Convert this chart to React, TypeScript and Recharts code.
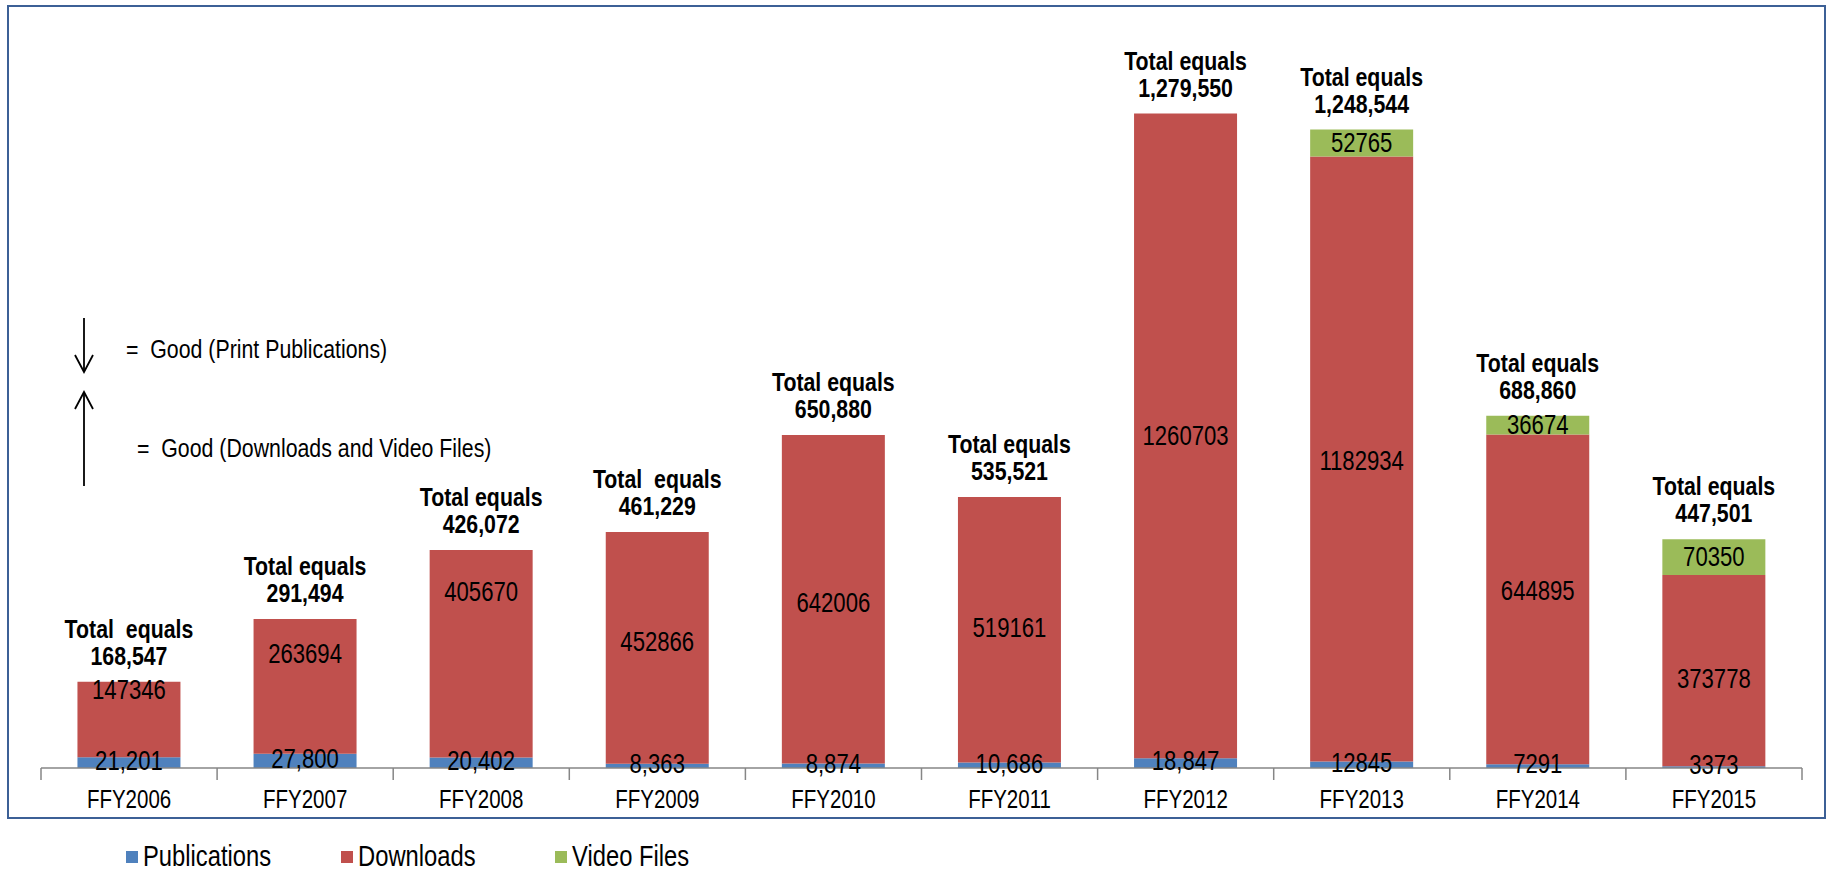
import { BarChart, Bar, XAxis, YAxis, LabelList, Legend } from "recharts";

const years = ["FFY2006", "FFY2007", "FFY2008", "FFY2009", "FFY2010", "FFY2011", "FFY2012", "FFY2013", "FFY2014", "FFY2015"];
const publications = [21201, 27800, 20402, 8363, 8874, 10686, 18847, 12845, 7291, 3373];
const downloads = [147346, 263694, 405670, 452866, 642006, 519161, 1260703, 1182934, 644895, 373778];
const videoFiles = [0, 0, 0, 0, 0, 0, 0, 52765, 36674, 70350];
const publicationLabels = ["21,201", "27,800", "20,402", "8,363", "8,874", "10,686", "18,847", "12845", "7291", "3373"];
const totalCaptions = ["Total  equals", "Total equals", "Total equals", "Total  equals", "Total equals", "Total equals", "Total equals", "Total equals", "Total equals", "Total equals"];
const totalLabels = ["168,547", "291,494", "426,072", "461,229", "650,880", "535,521", "1,279,550", "1,248,544", "688,860", "447,501"];
const seriesOrder = ["Publications", "Downloads", "Video Files"];

// layout
const W = 1835;
const H = 871;
const PLOT_LEFT = 41;
const PLOT_RIGHT = 1802;
const PLOT_TOP = 52;
const PLOT_BOTTOM = 768;
const X_AXIS_H = 40;
const BAND = (PLOT_RIGHT - PLOT_LEFT) / years.length;
// Excel labels were dragged by hand in the original
const downloadNudge = [-30, -33, -62, -6, 3, -2, 0, 2, -9, 8];
const legendX = [126, 341, 555];

const FONT = "'Liberation Sans', Arial, sans-serif";
const NARROW = 0.82;
const COLORS = { publications: "#4F81BD", downloads: "#C0504D", video: "#9BBB59" };

const data = years.map((year, i) => ({
  year,
  publications: publications[i],
  downloads: downloads[i],
  video: videoFiles[i],
}));

// Arial Narrow look: Liberation Sans squeezed horizontally
function NText({ x, y, size, bold, anchor = "middle", children }: any) {
  return (
    <text
      transform={`translate(${x},${y}) scale(${NARROW},1)`}
      textAnchor={anchor}
      dominantBaseline="central"
      fontFamily={FONT}
      fontSize={size}
      fontWeight={bold ? "bold" : "normal"}
      fill="#000"
      style={{ whiteSpace: "pre" }}
    >
      {children}
    </text>
  );
}

function YearTick(props: any) {
  const { x, payload, index } = props;
  const half = BAND / 2;
  return (
    <g>
      <line x1={x - half} x2={x - half} y1={PLOT_BOTTOM} y2={PLOT_BOTTOM + 12} stroke="#868686" strokeWidth={1.5} />
      {index === years.length - 1 && (
        <line x1={x + half} x2={x + half} y1={PLOT_BOTTOM} y2={PLOT_BOTTOM + 12} stroke="#868686" strokeWidth={1.5} />
      )}
      <NText x={x} y={PLOT_BOTTOM + 31} size={25}>
        {payload.value}
      </NText>
    </g>
  );
}

const pubLabel = (props: any) => {
  const { x, y, width, height, index } = props;
  return (
    <NText x={x + width / 2} y={y + height / 2 - 2} size={27}>
      {publicationLabels[index]}
    </NText>
  );
};

const downloadLabel = (props: any) => {
  const { x, y, width, height, index, value } = props;
  return (
    <NText x={x + width / 2} y={y + height / 2 + downloadNudge[index]} size={27}>
      {value}
    </NText>
  );
};

const videoLabel = (props: any) => {
  const { x, y, width, height, value } = props;
  if (!value) return null;
  return (
    <NText x={x + width / 2} y={y + height / 2} size={27}>
      {value}
    </NText>
  );
};

// totals sit on top of the whole stack: scale video off the downloads segment
const totalLabel = (props: any) => {
  const { x, y, width, height, index } = props;
  const cx = x + width / 2;
  const top = y - (height * videoFiles[index]) / downloads[index];
  return (
    <g>
      <NText x={cx} y={top - 53} size={26} bold>
        {totalCaptions[index]}
      </NText>
      <NText x={cx} y={top - 26} size={26} bold>
        {totalLabels[index]}
      </NText>
    </g>
  );
};

function LegendContent(props: any) {
  const payload = [...(props.payload || [])].sort(
    (a: any, b: any) => seriesOrder.indexOf(a.value) - seriesOrder.indexOf(b.value)
  );
  return (
    <svg width={W} height={30} style={{ display: "block" }}>
      {payload.map((entry: any, i: number) => (
        <g key={entry.value}>
          <rect x={legendX[i]} y={10} width={12} height={12} fill={entry.color} />
          <NText x={legendX[i] + 17} y={15} size={29} anchor="start">
            {entry.value}
          </NText>
        </g>
      ))}
    </svg>
  );
}

function Arrow({ x, y1, y2, up }: { x: number; y1: number; y2: number; up: boolean }) {
  const tip = up ? y1 : y2;
  const d = up ? 17 : -17;
  return (
    <g stroke="#000" strokeWidth={1.8} fill="none">
      <line x1={x} x2={x} y1={y1} y2={y2} />
      <polyline points={`${x - 9},${tip + d} ${x},${tip} ${x + 9},${tip + d}`} />
    </g>
  );
}

export default function App() {
  return (
    <div style={{ position: "absolute", left: 0, top: 0, width: W, height: H, background: "#fff" }}>
      <div
        style={{
          position: "absolute",
          left: 7,
          top: 5,
          width: 1819,
          height: 814,
          border: "2.5px solid #3C6096",
          boxSizing: "border-box",
        }}
      />
      <BarChart
        width={W}
        height={H}
        data={data}
        margin={{ top: PLOT_TOP, right: W - PLOT_RIGHT, left: PLOT_LEFT, bottom: H - PLOT_BOTTOM - X_AXIS_H }}
        barCategoryGap="20.7%"
      >
        <XAxis
          dataKey="year"
          height={X_AXIS_H}
          axisLine={{ stroke: "#868686", strokeWidth: 1.5 }}
          tickLine={false}
          tick={<YearTick />}
          interval={0}
        />
        <YAxis hide domain={[0, 1400000]} />
        <Legend
          layout="horizontal"
          verticalAlign="middle"
          align="center"
          wrapperStyle={{ top: 841, left: 0, width: W, height: 30 }}
          content={<LegendContent />}
        />
        <Bar dataKey="publications" name="Publications" stackId="a" fill={COLORS.publications} isAnimationActive={false}>
          <LabelList dataKey="publications" content={pubLabel} />
        </Bar>
        <Bar dataKey="downloads" name="Downloads" stackId="a" fill={COLORS.downloads} isAnimationActive={false}>
          <LabelList dataKey="downloads" content={downloadLabel} />
          <LabelList dataKey="downloads" content={totalLabel} />
        </Bar>
        <Bar dataKey="video" name="Video Files" stackId="a" fill={COLORS.video} isAnimationActive={false}>
          <LabelList dataKey="video" content={videoLabel} />
        </Bar>
      </BarChart>
      <svg style={{ position: "absolute", left: 0, top: 0 }} width={W} height={H}>
        <Arrow x={84} y1={318} y2={372} up={false} />
        <Arrow x={84} y1={392} y2={486} up={true} />
        <NText x={126} y={349} size={26} anchor="start">=  Good (Print Publications)</NText>
        <NText x={137} y={448} size={26} anchor="start">=  Good (Downloads and Video Files)</NText>
      </svg>
    </div>
  );
}
